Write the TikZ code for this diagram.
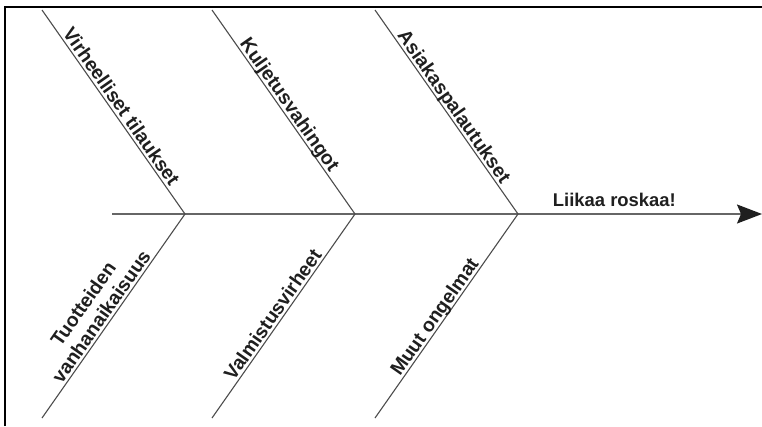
\documentclass[tikz,border=0pt]{standalone}
\usepackage{fontspec}
\setmainfont{Liberation Sans}
\usetikzlibrary{arrows.meta}
\tikzset{
  bone/.style={draw=black!70, line width=1.1bp},
  spine/.style={draw=black!60, line width=1.6bp},
  lbl/.style={font=\bfseries\fontsize{19.5}{22}\selectfont, inner sep=0.8bp,
              text depth=0.2em, anchor=south, text=black!88},
  ttl/.style={font=\bfseries\fontsize{18.5}{21}\selectfont, inner sep=0pt,
              anchor=base west, text=black!88},
  frameline/.style={draw=black, line width=2.5bp}
}
\begin{document}
\begin{tikzpicture}[x=1bp,y=-1bp]
\useasboundingbox (0,0) rectangle (762,426);
\draw[frameline] (5,426) -- (5,7) -- (762,7);
\coordinate (j1) at (185,214);
\coordinate (j2) at (355,214);
\coordinate (j3) at (518,214);
\coordinate (t1) at (42,10);
\coordinate (t2) at (212,10);
\coordinate (t3) at (375,10);
\coordinate (b1) at (42,418);
\coordinate (b2) at (212,418);
\coordinate (b3) at (375,418);
\coordinate (s0) at (112,214);
\coordinate (head) at (762,214);
% spine
\draw[spine, -{Stealth[length=25bp, width=19bp, inset=4bp, color=black!88]}] (s0) -- (head);
% bones
\draw[bone] (t1) -- (j1) -- (b1);
\draw[bone] (t2) -- (j2) -- (b2);
\draw[bone] (t3) -- (j3) -- (b3);
% labels
\path (t1) -- (j1) node[lbl, rotate=-55, pos=0.50] (l1) {Virheelliset tilaukset};
\path (t2) -- (j2) node[lbl, rotate=-55, pos=0.49] (l2) {Kuljetusvahingot};
\path (t3) -- (j3) node[lbl, rotate=-55, pos=0.50] (l3) {Asiakaspalautukset};
\path (j1) -- (b1) node[lbl, rotate=55, pos=0.53, align=center] (l4) {Tuotteiden\\vanhanaikaisuus};
\path (j2) -- (b2) node[lbl, rotate=55, pos=0.52] (l5) {Valmistusvirheet};
\path (j3) -- (b3) node[lbl, rotate=55, pos=0.53] (l6) {Muut ongelmat};
\node[ttl] (title) at (552.7,206) {Liikaa roskaa!};
\end{tikzpicture}
\end{document}
